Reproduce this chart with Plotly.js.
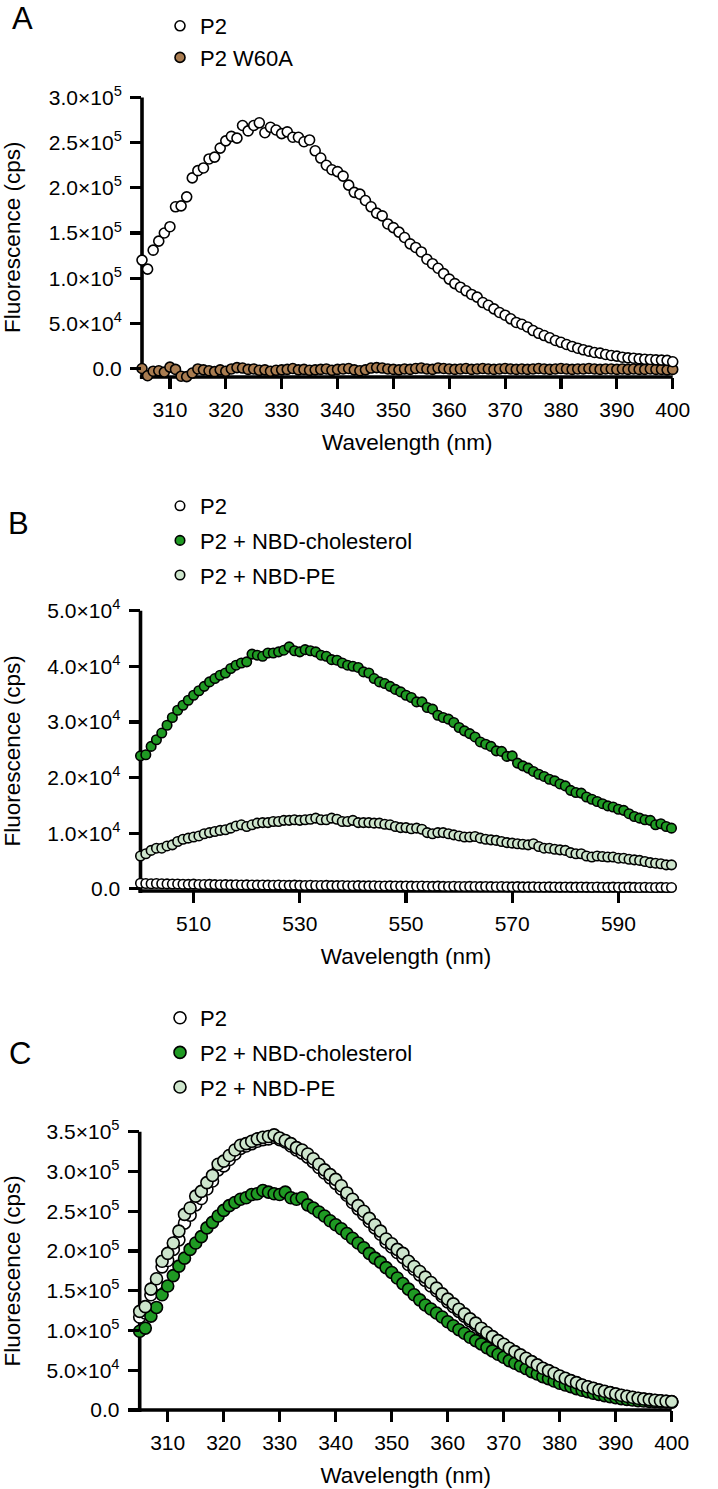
<!DOCTYPE html>
<html>
<head>
<meta charset="utf-8">
<script src="https://cdn.plot.ly/plotly-3.0.1.min.js"></script>
<style>
html,body{margin:0;padding:0;background:#ffffff;}
#chart{width:718px;height:1489px;}
</style>
</head>
<body>
<div id="chart"></div>
<script>
// ---------- Panel A ----------
const wavelengthA = [305,306,307,308,309,310,311,312,313,314,315,316,317,318,319,320,321,322,323,324,325,326,327,328,329,330,331,332,333,334,335,336,337,338,339,340,341,342,343,344,345,346,347,348,349,350,351,352,353,354,355,356,357,358,359,360,361,362,363,364,365,366,367,368,369,370,371,372,373,374,375,376,377,378,379,380,381,382,383,384,385,386,387,388,389,390,391,392,393,394,395,396,397,398,399,400];
const panelA_P2 = [1.20e5,1.10e5,1.31e5,1.41e5,1.50e5,1.57e5,1.79e5,1.80e5,1.90e5,2.11e5,2.19e5,2.22e5,2.32e5,2.34e5,2.44e5,2.52e5,2.57e5,2.55e5,2.69e5,2.63e5,2.69e5,2.72e5,2.61e5,2.67e5,2.64e5,2.60e5,2.62e5,2.56e5,2.56e5,2.51e5,2.53e5,2.41e5,2.33e5,2.25e5,2.20e5,2.18e5,2.13e5,2.03e5,1.95e5,1.93e5,1.86e5,1.79e5,1.72e5,1.69e5,1.60e5,1.56e5,1.51e5,1.45e5,1.38e5,1.34e5,1.29e5,1.21e5,1.16e5,1.11e5,1.05e5,9.9e4,9.4e4,9.0e4,8.6e4,8.2e4,7.9e4,7.3e4,7.0e4,6.6e4,6.2e4,5.9e4,5.5e4,5.1e4,4.9e4,4.6e4,4.2e4,3.9e4,3.65e4,3.4e4,3.1e4,2.9e4,2.66e4,2.44e4,2.25e4,2.07e4,1.92e4,1.77e4,1.70e4,1.55e4,1.44e4,1.37e4,1.25e4,1.18e4,1.14e4,1.07e4,1.03e4,1.00e4,9.6e3,9.3e3,9.0e3,7.5e3];
const panelA_W60A = [0,-8000,-3000,-2500,-4000,1500,-1000,-8500,-9000,-5000,-500,-1500,-2500,-3500,-1500,-3000,-500,1000,500,-1000,-500,-2000,-1500,-3000,-2000,-1500,-1000,0,-1500,-1000,-2000,-1500,-1000,-500,-2000,-1000,-500,0,-1500,-2500,-1500,500,1000,500,-500,-1000,-1500,-500,-1000,0,500,-500,-1000,500,0,-500,-1000,-500,0,-1000,-500,0,-500,-1000,-500,0,-500,-1000,-500,-1000,-500,0,-500,-1000,-500,0,-500,-1000,-500,-500,0,-500,-1000,-500,-500,-1000,-500,-1000,-500,-1000,-1000,-500,-1000,-1000,-1500,-1000];

// ---------- Panel B ----------
const wavelengthB = [500,501,502,503,504,505,506,507,508,509,510,511,512,513,514,515,516,517,518,519,520,521,522,523,524,525,526,527,528,529,530,531,532,533,534,535,536,537,538,539,540,541,542,543,544,545,546,547,548,549,550,551,552,553,554,555,556,557,558,559,560,561,562,563,564,565,566,567,568,569,570,571,572,573,574,575,576,577,578,579,580,581,582,583,584,585,586,587,588,589,590,591,592,593,594,595,596,597,598,599,600];
const panelB_P2 = [1000,950,900,950,900,880,850,870,820,800,830,780,760,790,750,720,740,700,720,690,700,680,660,690,650,640,670,630,620,650,610,600,630,590,580,610,570,560,590,550,540,570,530,520,550,510,500,530,490,480,510,470,460,490,450,440,470,430,420,450,410,400,430,400,390,420,380,370,400,360,350,380,350,340,370,330,320,350,310,300,330,300,290,320,290,280,310,270,260,300,280,260,290,250,240,270,240,230,260,230,220];
const panelB_NBDchol = [2.39e4,2.41e4,2.56e4,2.68e4,2.80e4,2.94e4,3.08e4,3.21e4,3.30e4,3.39e4,3.48e4,3.56e4,3.64e4,3.72e4,3.78e4,3.84e4,3.88e4,3.96e4,4.02e4,4.06e4,4.08e4,4.22e4,4.20e4,4.18e4,4.24e4,4.24e4,4.26e4,4.29e4,4.35e4,4.28e4,4.26e4,4.30e4,4.28e4,4.26e4,4.20e4,4.18e4,4.12e4,4.11e4,4.06e4,4.02e4,4.00e4,3.98e4,3.90e4,3.88e4,3.78e4,3.72e4,3.69e4,3.64e4,3.585e4,3.54e4,3.48e4,3.44e4,3.36e4,3.36e4,3.26e4,3.23e4,3.12e4,3.08e4,3.05e4,2.99e4,2.90e4,2.84e4,2.79e4,2.73e4,2.64e4,2.60e4,2.56e4,2.48e4,2.47e4,2.38e4,2.39e4,2.26e4,2.21e4,2.17e4,2.11e4,2.06e4,2.02e4,1.97e4,1.94e4,1.885e4,1.85e4,1.77e4,1.73e4,1.72e4,1.65e4,1.61e4,1.57e4,1.53e4,1.49e4,1.47e4,1.43e4,1.41e4,1.35e4,1.30e4,1.27e4,1.24e4,1.23e4,1.15e4,1.17e4,1.12e4,1.09e4];
const panelB_NBDPE = [5.9e3,6.3e3,6.9e3,7.3e3,7.3e3,7.7e3,7.9e3,8.5e3,8.9e3,9.1e3,9.3e3,9.5e3,9.9e3,1.01e4,1.03e4,1.05e4,1.06e4,1.09e4,1.13e4,1.15e4,1.12e4,1.15e4,1.18e4,1.19e4,1.19e4,1.21e4,1.21e4,1.23e4,1.23e4,1.24e4,1.23e4,1.24e4,1.25e4,1.27e4,1.24e4,1.24e4,1.27e4,1.25e4,1.21e4,1.21e4,1.23e4,1.19e4,1.19e4,1.19e4,1.18e4,1.18e4,1.16e4,1.15e4,1.12e4,1.10e4,1.10e4,1.08e4,1.09e4,1.07e4,1.01e4,9.9e3,1.01e4,1.01e4,9.9e3,9.7e3,9.5e3,9.3e3,9.3e3,9.4e3,9.1e3,8.9e3,8.8e3,8.7e3,8.5e3,8.3e3,8.2e3,8.1e3,8.0e3,7.9e3,8.1e3,7.6e3,7.3e3,7.3e3,7.1e3,7.0e3,6.9e3,6.5e3,6.3e3,6.3e3,5.9e3,5.7e3,5.9e3,5.8e3,5.7e3,5.7e3,5.5e3,5.5e3,5.3e3,5.2e3,5.1e3,4.9e3,4.7e3,4.6e3,4.5e3,4.3e3,4.3e3];

// ---------- Panel C ----------
const wavelengthC = [305,306,307,308,309,310,311,312,313,314,315,316,317,318,319,320,321,322,323,324,325,326,327,328,329,330,331,332,333,334,335,336,337,338,339,340,341,342,343,344,345,346,347,348,349,350,351,352,353,354,355,356,357,358,359,360,361,362,363,364,365,366,367,368,369,370,371,372,373,374,375,376,377,378,379,380,381,382,383,384,385,386,387,388,389,390,391,392,393,394,395,396,397,398,399,400];
const panelC_P2 = [1.17e5,1.22e5,1.45e5,1.58e5,1.80e5,1.88e5,2.02e5,2.14e5,2.35e5,2.45e5,2.58e5,2.66e5,2.78e5,2.88e5,3.02e5,3.07e5,3.15e5,3.22e5,3.29e5,3.32e5,3.35e5,3.38e5,3.40e5,3.41e5,3.43e5,3.40e5,3.37e5,3.32e5,3.27e5,3.23e5,3.18e5,3.12e5,3.05e5,2.98e5,2.92e5,2.85e5,2.78e5,2.70e5,2.61e5,2.53e5,2.46e5,2.37e5,2.29e5,2.21e5,2.11e5,2.05e5,1.98e5,1.92e5,1.83e5,1.77e5,1.70e5,1.63e5,1.56e5,1.50e5,1.43e5,1.36e5,1.30e5,1.24e5,1.18e5,1.12e5,1.07e5,1.01e5,9.55e4,9.05e4,8.55e4,8.1e4,7.6e4,7.2e4,6.8e4,6.4e4,6.0e4,5.6e4,5.2e4,4.9e4,4.55e4,4.2e4,3.9e4,3.6e4,3.4e4,3.1e4,2.9e4,2.7e4,2.5e4,2.3e4,2.15e4,2.0e4,1.83e4,1.7e4,1.58e4,1.45e4,1.37e4,1.28e4,1.2e4,1.15e4,1.08e4,1.03e4];
const panelC_NBDchol = [9.9e4,1.03e5,1.18e5,1.29e5,1.45e5,1.56e5,1.69e5,1.81e5,1.91e5,2.02e5,2.10e5,2.18e5,2.29e5,2.36e5,2.44e5,2.51e5,2.57e5,2.61e5,2.65e5,2.67e5,2.71e5,2.72e5,2.76e5,2.74e5,2.72e5,2.71e5,2.74e5,2.67e5,2.65e5,2.67e5,2.58e5,2.54e5,2.49e5,2.44e5,2.38e5,2.33e5,2.28e5,2.22e5,2.16e5,2.10e5,2.04e5,1.97e5,1.91e5,1.86e5,1.79e5,1.73e5,1.66e5,1.59e5,1.52e5,1.45e5,1.385e5,1.32e5,1.27e5,1.22e5,1.17e5,1.11e5,1.06e5,1.01e5,9.65e4,9.15e4,8.73e4,8.31e4,7.85e4,7.43e4,7.01e4,6.63e4,6.21e4,5.88e4,5.54e4,5.21e4,4.83e4,4.53e4,4.20e4,3.95e4,3.65e4,3.36e4,3.15e4,2.94e4,2.69e4,2.48e4,2.31e4,2.10e4,1.97e4,1.81e4,1.68e4,1.55e4,1.43e4,1.34e4,1.26e4,1.18e4,1.13e4,1.09e4,1.05e4,1.01e4,1.00e4,9.7e3];
const panelC_NBDPE = [1.24e5,1.30e5,1.52e5,1.65e5,1.87e5,1.97e5,2.10e5,2.25e5,2.46e5,2.54e5,2.69e5,2.75e5,2.86e5,2.95e5,3.09e5,3.13e5,3.20e5,3.27e5,3.33e5,3.35e5,3.38e5,3.41e5,3.43e5,3.44e5,3.46e5,3.42e5,3.39e5,3.35e5,3.30e5,3.27e5,3.22e5,3.16e5,3.09e5,3.02e5,2.96e5,2.90e5,2.82e5,2.73e5,2.65e5,2.57e5,2.50e5,2.41e5,2.33e5,2.25e5,2.15e5,2.09e5,2.02e5,1.97e5,1.87e5,1.805e5,1.742e5,1.671e5,1.603e5,1.533e5,1.461e5,1.394e5,1.335e5,1.268e5,1.209e5,1.146e5,1.092e5,1.029e5,9.74e4,9.23e4,8.73e4,8.27e4,7.77e4,7.34e4,6.93e4,6.51e4,6.08e4,5.67e4,5.25e4,4.95e4,4.62e4,4.28e4,3.99e4,3.69e4,3.44e4,3.15e4,2.93e4,2.73e4,2.52e4,2.36e4,2.18e4,2.02e4,1.85e4,1.73e4,1.60e4,1.47e4,1.39e4,1.30e4,1.22e4,1.17e4,1.10e4,1.05e4];

// ---------- Tick labels ----------
const xTicksA = [310,320,330,340,350,360,370,380,390,400];
const xTicksB = [510,530,550,570,590];
const xTicksC = [310,320,330,340,350,360,370,380,390,400];
const yTickValsA = [0,5e4,1e5,1.5e5,2e5,2.5e5,3e5];
const yTickTextA = ['0.0','5.0×10<sup>4</sup>','1.0×10<sup>5</sup>','1.5×10<sup>5</sup>','2.0×10<sup>5</sup>','2.5×10<sup>5</sup>','3.0×10<sup>5</sup>'];
const yTickValsB = [0,1e4,2e4,3e4,4e4,5e4];
const yTickTextB = ['0.0','1.0×10<sup>4</sup>','2.0×10<sup>4</sup>','3.0×10<sup>4</sup>','4.0×10<sup>4</sup>','5.0×10<sup>4</sup>'];
const yTickValsC = [0,5e4,1e5,1.5e5,2e5,2.5e5,3e5,3.5e5];
const yTickTextC = ['0.0','5.0×10<sup>4</sup>','1.0×10<sup>5</sup>','1.5×10<sup>5</sup>','2.0×10<sup>5</sup>','2.5×10<sup>5</sup>','3.0×10<sup>5</sup>','3.5×10<sup>5</sup>'];

const seriesNames = ['P2','P2 W60A','P2 + NBD-cholesterol','P2 + NBD-PE'];
const colWhite = '#ffffff', colBrown = '#a97c50', colGreen = '#1f9a23', colPale = '#cde5cc';

const W = 718, H = 1489;
const FONT = 'Liberation Sans, Arial, Helvetica, sans-serif';
const LW = 3.6;
const px2x = p => p / W;
const px2y = p => 1 - p / H;

function mk(color, size) {
  return {symbol:'circle', size:size, color:color, line:{color:'#000000', width:1.6}};
}

const traces = [
  // A (W60A drawn first so P2 sits on top; legend order via legendrank)
  {x:wavelengthA, y:panelA_W60A, xaxis:'x', yaxis:'y', type:'scatter', mode:'markers', name:seriesNames[1],
   legend:'legend', legendgroup:'a2', legendrank:2, cliponaxis:false, marker:mk(colBrown,10)},
  {x:wavelengthA, y:panelA_P2, xaxis:'x', yaxis:'y', type:'scatter', mode:'markers', name:seriesNames[0],
   legend:'legend', legendgroup:'a1', legendrank:1, cliponaxis:false, marker:mk(colWhite,10)},
  // B
  {x:wavelengthB, y:panelB_P2, xaxis:'x2', yaxis:'y2', type:'scatter', mode:'markers', name:seriesNames[0],
   legend:'legend2', legendgroup:'b1', legendrank:1, cliponaxis:false, marker:mk(colWhite,9.5)},
  {x:wavelengthB, y:panelB_NBDchol, xaxis:'x2', yaxis:'y2', type:'scatter', mode:'markers', name:seriesNames[2],
   legend:'legend2', legendgroup:'b2', legendrank:2, cliponaxis:false, marker:mk(colGreen,9.5)},
  {x:wavelengthB, y:panelB_NBDPE, xaxis:'x2', yaxis:'y2', type:'scatter', mode:'markers', name:seriesNames[3],
   legend:'legend2', legendgroup:'b3', legendrank:3, cliponaxis:false, marker:mk(colPale,9.5)},
  // C
  {x:wavelengthC, y:panelC_P2, xaxis:'x3', yaxis:'y3', type:'scatter', mode:'markers', name:seriesNames[0],
   legend:'legend3', legendgroup:'c1', legendrank:1, cliponaxis:false, marker:mk(colWhite,12)},
  {x:wavelengthC, y:panelC_NBDchol, xaxis:'x3', yaxis:'y3', type:'scatter', mode:'markers', name:seriesNames[2],
   legend:'legend3', legendgroup:'c2', legendrank:2, cliponaxis:false, marker:mk(colGreen,12)},
  {x:wavelengthC, y:panelC_NBDPE, xaxis:'x3', yaxis:'y3', type:'scatter', mode:'markers', name:seriesNames[3],
   legend:'legend3', legendgroup:'c3', legendrank:3, cliponaxis:false, marker:mk(colPale,12)}
];

function xAxis(domainPx, range, ticks, yAnchor, titleText) {
  return {
    domain:[px2x(domainPx[0]), px2x(domainPx[1])], range:range, anchor:yAnchor,
    tickmode:'array', tickvals:ticks, ticktext:ticks.map(String),
    showline:false, ticks:'outside', ticklen:11, tickwidth:3.2, tickcolor:'#000',
    showgrid:false, zeroline:false, ticklabelstandoff:3,
    tickfont:{family:FONT, size:21, color:'#000'},
    title:{text:titleText, font:{family:FONT, size:22.5, color:'#000'}, standoff:14},
    fixedrange:true
  };
}
function yAxis(domainPx, range, vals, text, xAnchor) {
  return {
    domain:[px2y(domainPx[1]), px2y(domainPx[0])], range:range, anchor:xAnchor,
    tickmode:'array', tickvals:vals, ticktext:text,
    showline:false, ticks:'outside', ticklen:11, tickwidth:3.2, tickcolor:'#000',
    showgrid:false, zeroline:false, ticklabelstandoff:4,
    tickfont:{family:FONT, size:21, color:'#000'},
    title:{text:'Fluorescence (cps)', font:{family:FONT, size:22.5, color:'#000'}, standoff:21},
    fixedrange:true
  };
}

// axis spines drawn beneath the markers, in each subplot's own domain coordinates
function spines(xa, ya) {
  const base = {type:'line', layer:'below', line:{color:'#000000', width:LW}};
  return [
    Object.assign({}, base, {xref:xa+' domain', yref:ya+' domain', x0:-0.004, x1:1.0, y0:0, y1:0}),
    Object.assign({}, base, {xref:xa+' domain', yref:ya+' domain', x0:0, x1:0, y0:-0.007, y1:1.0})
  ];
}

function legendBox(leftPx, topPx, gap) {
  return {x:px2x(leftPx), y:px2y(topPx), xanchor:'left', yanchor:'top', xref:'paper', yref:'paper',
    bgcolor:'rgba(0,0,0,0)', borderwidth:0, font:{family:FONT, size:22, color:'#000'},
    traceorder:'grouped', tracegroupgap:gap, itemwidth:30, itemclick:false, itemdoubleclick:false};
}

const layout = {
  width:W, height:H, margin:{l:0, r:0, t:0, b:0}, paper_bgcolor:'#ffffff', plot_bgcolor:'rgba(0,0,0,0)',
  showlegend:true, hovermode:false,
  xaxis: xAxis([142,672.7],[305,400],xTicksA,'y','Wavelength (nm)'),
  yaxis: yAxis([97.5,377],[-9400,3e5],yTickValsA,yTickTextA,'x'),
  xaxis2: xAxis([140.5,671.5],[500,600],xTicksB,'y2','Wavelength (nm)'),
  yaxis2: yAxis([610.7,891],[-400,5e4],yTickValsB,yTickTextB,'x2'),
  xaxis3: xAxis([139.7,671.7],[305,400],xTicksC,'y3','Wavelength (nm)'),
  yaxis3: yAxis([1131.7,1410],[0,3.5e5],yTickValsC,yTickTextC,'x3'),
  shapes: [].concat(spines('x','y'), spines('x2','y2'), spines('x3','y3')),
  legend: legendBox(160, 5, 0),
  legend2: legendBox(160, 485, 3),
  legend3: legendBox(160, 997, 3),
  annotations:[
    {text:'A', x:px2x(22), y:px2y(18), xref:'paper', yref:'paper', showarrow:false, xanchor:'center', yanchor:'middle', font:{family:FONT, size:31, color:'#000'}},
    {text:'B', x:px2x(18), y:px2y(523), xref:'paper', yref:'paper', showarrow:false, xanchor:'center', yanchor:'middle', font:{family:FONT, size:31, color:'#000'}},
    {text:'C', x:px2x(20), y:px2y(1053), xref:'paper', yref:'paper', showarrow:false, xanchor:'center', yanchor:'middle', font:{family:FONT, size:31, color:'#000'}}
  ]
};

Plotly.newPlot('chart', traces, layout, {staticPlot:true, displayModeBar:false});
</script>
</body>
</html>
